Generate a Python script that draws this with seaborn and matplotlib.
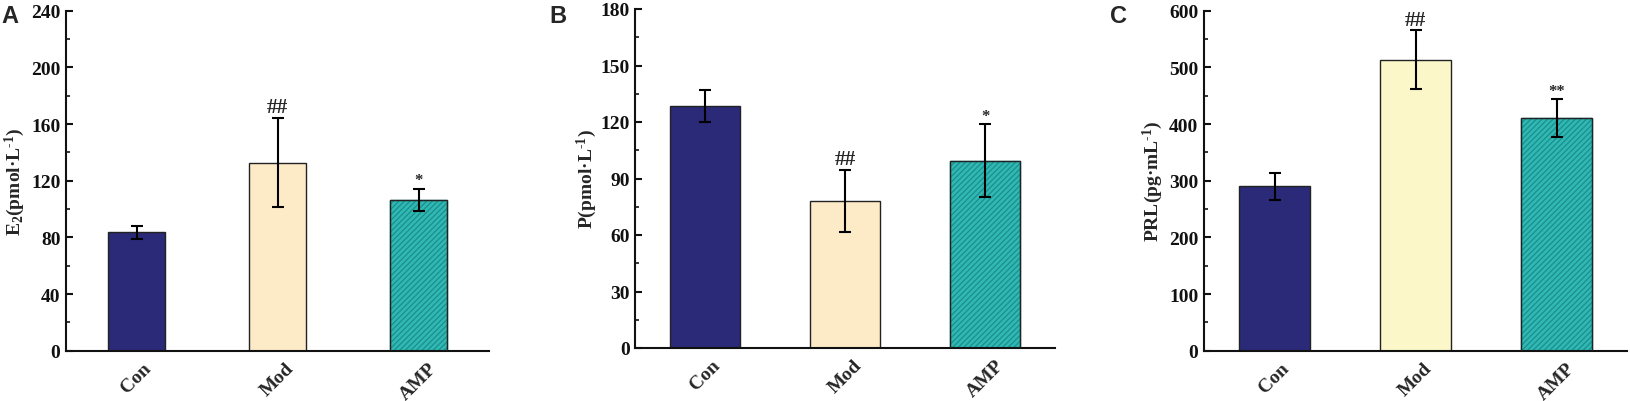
import numpy as np
import pandas as pd
import matplotlib
matplotlib.use("Agg")
import matplotlib.pyplot as plt
from matplotlib.ticker import AutoMinorLocator, MultipleLocator
from matplotlib.patches import Rectangle
import seaborn as sns

# ---------------- data ----------------
groups = ["Con", "Mod", "AMP"]

e2_mean = [83.5, 132.7, 106.4]
e2_err = [4.7, 31.5, 7.8]
e2_sig = ["", "##", "*"]

p_mean = [128.4, 78.1, 99.5]
p_err = [8.5, 16.6, 19.3]
p_sig = ["", "##", "*"]

prl_mean = [290.0, 513.5, 410.6]
prl_err = [23.7, 52.0, 33.0]
prl_sig = ["", "##", "**"]

panel_letters = ["A", "B", "C"]
ylabels = [r"E$_{\mathbf{2}}$(pmol·L$^{\text{-1}}$)",
           r"P(pmol·L$^{\text{-1}}$)",
           r"PRL(pg·mL$^{\text{-1}}$)"]
ylims = [(0, 240), (0, 180), (0, 600)]
ysteps = [40, 30, 100]

# ---------------- style ----------------
sns.set_theme(style="ticks")
plt.rcParams["font.family"] = ["Liberation Serif", "DejaVu Serif"]
plt.rcParams["font.weight"] = "bold"
plt.rcParams["mathtext.fontset"] = "custom"
plt.rcParams["mathtext.rm"] = "Liberation Serif:bold"
plt.rcParams["mathtext.bf"] = "Liberation Serif:bold"
plt.rcParams["mathtext.it"] = "Liberation Serif:bold"
plt.rcParams["mathtext.default"] = "bf"
plt.rcParams["hatch.linewidth"] = 0.9

con_color = "#2a2a78"
amp_color = "#2fb8b4"
hatch_color = "#1c8e8b"
mod_colors = ["#fdebc8", "#fdebc8", "#fcf7c9"]

fig = plt.figure(figsize=(16.3, 4.02), dpi=100)
W, H = 1630.0, 402.0
boxes = [(66, 489, 351.7, 11.7), (635.3, 1055, 349, 10), (1204, 1627, 351.7, 11.7)]
label_x = [-0.093, -0.087, -0.093]
letter_x = [1, 549, 1110]

datasets = [(e2_mean, e2_err, e2_sig), (p_mean, p_err, p_sig), (prl_mean, prl_err, prl_sig)]

for i, ((means, errs, sigs), (l, r, b, t)) in enumerate(zip(datasets, boxes)):
    ax = fig.add_axes([l / W, (H - b) / H, (r - l) / W, (b - t) / H])
    df = pd.DataFrame({"group": groups, "value": means})
    palette = {"Con": con_color, "Mod": mod_colors[i], "AMP": amp_color}
    width = 0.4 if i == 0 else 0.5
    sns.barplot(data=df, x="group", y="value", hue="group", palette=palette,
                width=width, dodge=False, legend=False, errorbar=None,
                edgecolor="#222222", linewidth=1.0, saturation=1, ax=ax)
    # hatch the AMP bar
    amp_patch = ax.patches[2]
    amp_patch.set_hatch("//////")
    if hasattr(amp_patch, "set_hatchcolor"):
        amp_patch.set_hatchcolor(hatch_color)
    else:
        amp_patch.set_edgecolor(hatch_color)
        ax.add_patch(Rectangle((amp_patch.get_x(), amp_patch.get_y()),
                               amp_patch.get_width(), amp_patch.get_height(),
                               fill=False, edgecolor="#222222", linewidth=1.0, zorder=3))
    xs = np.arange(len(groups))
    ax.errorbar(xs, means, yerr=errs, fmt="none", ecolor="black",
                elinewidth=1.5, capsize=4.5, capthick=1.5, zorder=4)
    for x, m, e, s in zip(xs, means, errs, sigs):
        if s:
            fs = 15.5 if s.startswith("#") else 12
            ax.annotate(s, xy=(x, m + e), xytext=(0, 0.5), textcoords="offset points",
                        ha="center", va="bottom", fontsize=fs, fontweight="bold")
    ax.set_xlim(-0.5, 2.5)
    ax.set_ylim(*ylims[i])
    ax.yaxis.set_major_locator(MultipleLocator(ysteps[i]))
    ax.yaxis.set_minor_locator(AutoMinorLocator(2))
    sns.despine(ax=ax)
    for sp in ("left", "bottom"):
        ax.spines[sp].set_linewidth(1.5)
        ax.spines[sp].set_color("#111111")
    ax.tick_params(axis="y", which="major", direction="in", length=5, width=1.5,
                   labelsize=14, pad=4, colors="#111111")
    ax.tick_params(axis="y", which="minor", direction="in", length=3, width=1.3)
    ax.tick_params(axis="x", length=0, labelsize=14, pad=6)
    for lab in ax.get_xticklabels():
        lab.set_rotation(45)
        lab.set_ha("center")
        lab.set_fontweight("bold")
    for lab in ax.get_yticklabels():
        lab.set_fontweight("bold")
    ax.set_xlabel("")
    ax.set_ylabel(ylabels[i], fontsize=14, fontweight="bold")
    ax.yaxis.set_label_coords(label_x[i], 0.5)
    fig.text(letter_x[i] / W, 1 - 5 / H, panel_letters[i], ha="left", va="top",
             fontsize=17, fontweight="bold", family=["Liberation Sans", "DejaVu Sans"])

fig.savefig("out.png", dpi=100)
